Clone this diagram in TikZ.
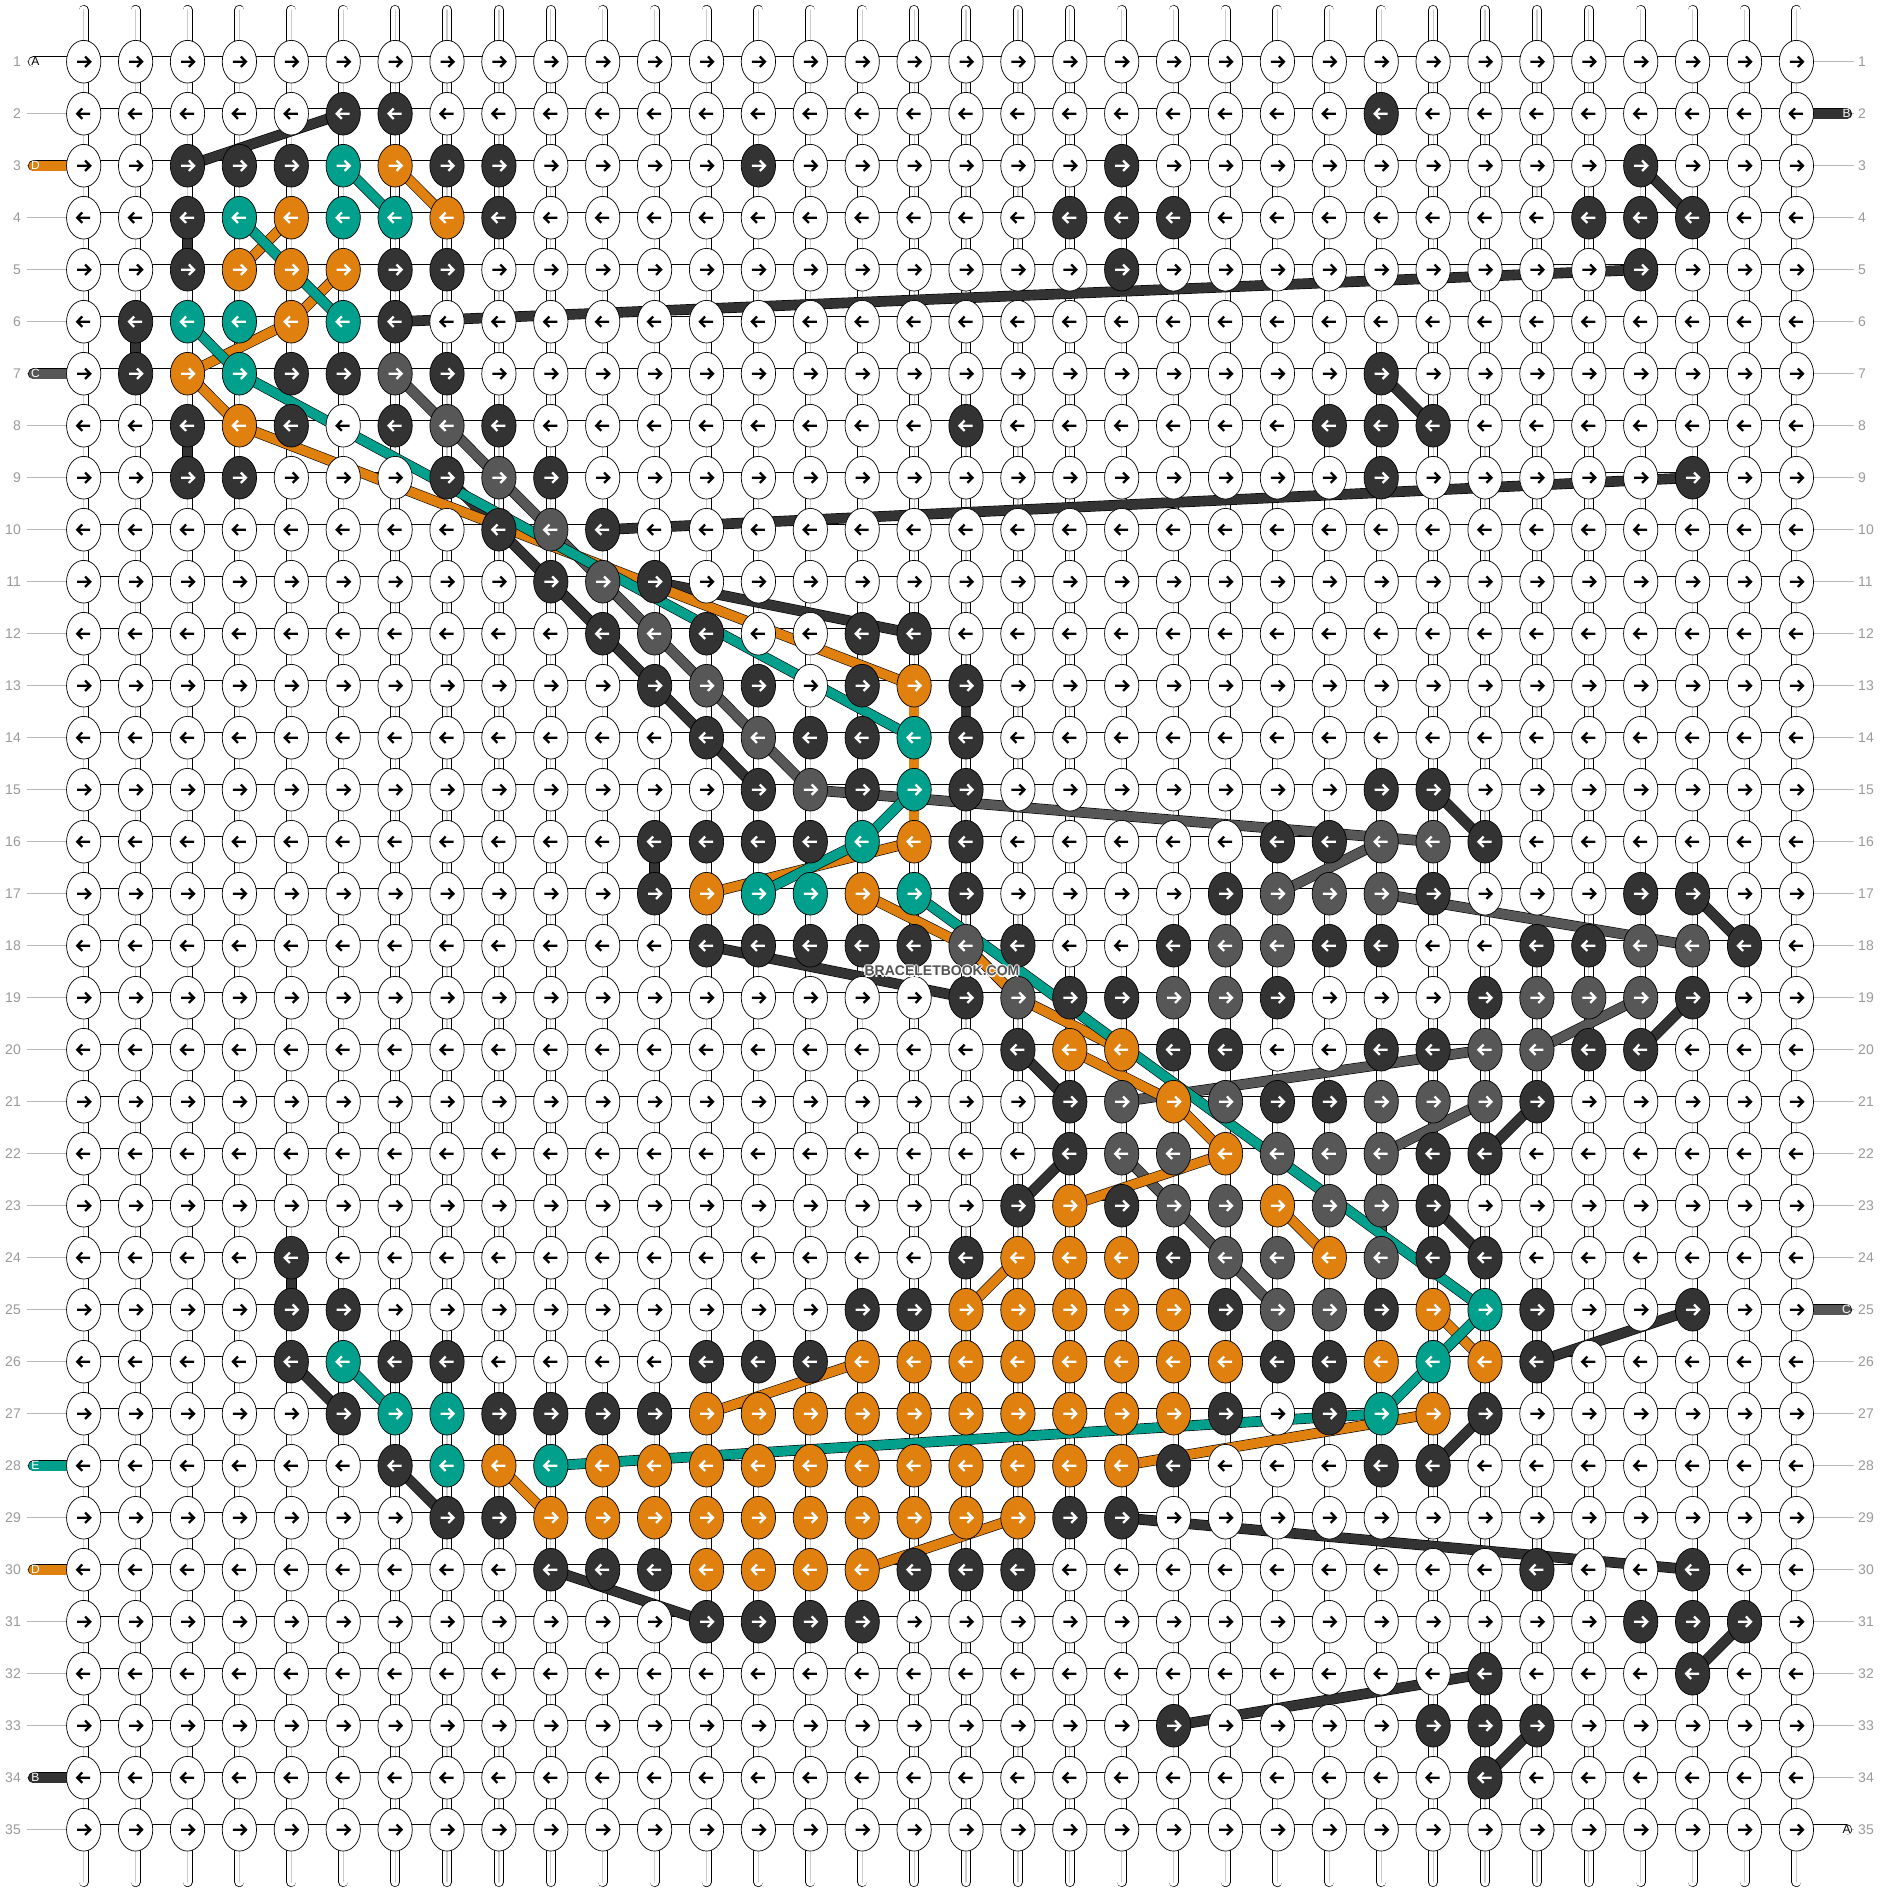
\documentclass[tikz,border=0pt]{standalone}
\usepackage{fontspec}
\setmainfont{Liberation Sans}
\usetikzlibrary{shapes.geometric}

\definecolor{dk}{HTML}{333333}
\definecolor{gr}{HTML}{575757}
\definecolor{tl}{HTML}{00A08D}
\definecolor{og}{HTML}{E0800F}
\definecolor{rowgray}{HTML}{9A9A9A}

\pgfdeclarelayer{strings}
\pgfsetlayers{strings,main}

\begin{document}
\begin{tikzpicture}[x=1pt, y=-1pt,
    knot/.style={ellipse, draw=black, line width=0.7pt, minimum width=34.3pt, minimum height=42.7pt, inner sep=0pt},
    arw/.style={draw=#1, line width=2.3pt},
    vstr/.style={draw=black, line width=0.7pt, double=white, double distance=8.6pt, line cap=round, postaction={draw=black!20, line width=1.2pt}},
    hstr/.style={draw=black, line width=0.7pt, double=white, double distance=9.8pt},
    band/.style={draw=black, line width=0.6pt, double=#1, double distance=9.4pt},
    rowline/.style={draw=rowgray!70, line width=0.9pt},
    rownum/.style={text=rowgray, font=\fontsize{14}{14}\selectfont, inner sep=0pt},
    tagline/.style={draw=black, line width=0.6pt, double=#1, double distance=9.8pt, line cap=round},
    tagtext/.style={font=\fontsize{12}{12}\selectfont, inner sep=0pt},
    wmark/.style={font=\bfseries\fontsize{14}{14}\selectfont, inner sep=0pt}]

\useasboundingbox (0,0) rectangle (1884,1892);
\begin{pgfonlayer}{strings}
\fill[white] (0,0) rectangle (1884,1892);
\end{pgfonlayer}

\foreach \r/\a/\b/\k in {
  2/6/7/dk, 2/26/26/dk,
  3/3/5/dk, 3/6/6/tl, 3/7/7/og, 3/8/9/dk, 3/14/14/dk, 3/21/21/dk, 3/31/31/dk,
  4/3/3/dk, 4/4/4/tl, 4/5/5/og, 4/6/7/tl, 4/8/8/og, 4/9/9/dk, 4/20/22/dk, 4/30/32/dk,
  5/3/3/dk, 5/4/6/og, 5/7/8/dk, 5/21/21/dk, 5/31/31/dk,
  6/2/2/dk, 6/3/4/tl, 6/5/5/og, 6/6/6/tl, 6/7/7/dk,
  7/2/2/dk, 7/3/3/og, 7/4/4/tl, 7/5/6/dk, 7/7/7/gr, 7/8/8/dk, 7/26/26/dk,
  8/3/3/dk, 8/4/4/og, 8/5/5/dk, 8/7/7/dk, 8/8/8/gr, 8/9/9/dk, 8/18/18/dk, 8/25/27/dk,
  9/3/4/dk, 9/8/8/dk, 9/9/9/gr, 9/10/10/dk, 9/26/26/dk, 9/32/32/dk,
  10/9/9/dk, 10/10/10/gr, 10/11/11/dk,
  11/10/10/dk, 11/11/11/gr, 11/12/12/dk,
  12/11/11/dk, 12/12/12/gr, 12/13/13/dk, 12/16/17/dk,
  13/12/12/dk, 13/13/13/gr, 13/14/14/dk, 13/16/16/dk, 13/17/17/og, 13/18/18/dk,
  14/13/13/dk, 14/14/14/gr, 14/15/16/dk, 14/17/17/tl, 14/18/18/dk,
  15/14/14/dk, 15/15/15/gr, 15/16/16/dk, 15/17/17/tl, 15/18/18/dk, 15/26/27/dk,
  16/12/15/dk, 16/16/16/tl, 16/17/17/og, 16/18/18/dk, 16/24/25/dk, 16/26/27/gr, 16/28/28/dk,
  17/12/12/dk, 17/13/13/og, 17/14/15/tl, 17/16/16/og, 17/17/17/tl, 17/18/18/dk, 17/23/23/dk, 17/24/26/gr, 17/27/27/dk, 17/31/32/dk,
  18/13/17/dk, 18/18/18/gr, 18/19/19/dk, 18/22/22/dk, 18/23/24/gr, 18/25/26/dk, 18/29/30/dk, 18/31/32/gr, 18/33/33/dk,
  19/18/18/dk, 19/19/19/gr, 19/20/21/dk, 19/22/23/gr, 19/24/24/dk, 19/28/28/dk, 19/29/31/gr, 19/32/32/dk,
  20/19/19/dk, 20/20/21/og, 20/22/23/dk, 20/26/27/dk, 20/28/29/gr, 20/30/31/dk,
  21/20/20/dk, 21/21/21/gr, 21/22/22/og, 21/23/23/gr, 21/24/25/dk, 21/26/28/gr, 21/29/29/dk,
  22/20/20/dk, 22/21/22/gr, 22/23/23/og, 22/24/26/gr, 22/27/28/dk,
  23/19/19/dk, 23/20/20/og, 23/21/21/dk, 23/22/23/gr, 23/24/24/og, 23/25/26/gr, 23/27/27/dk,
  24/5/5/dk, 24/18/18/dk, 24/19/21/og, 24/22/22/dk, 24/23/24/gr, 24/25/25/og, 24/26/26/gr, 24/27/28/dk,
  25/5/6/dk, 25/16/17/dk, 25/18/22/og, 25/23/23/dk, 25/24/25/gr, 25/26/26/dk, 25/27/27/og, 25/28/28/tl, 25/29/29/dk, 25/32/32/dk,
  26/5/5/dk, 26/6/6/tl, 26/7/8/dk, 26/13/15/dk, 26/16/23/og, 26/24/25/dk, 26/26/26/og, 26/27/27/tl, 26/28/28/og, 26/29/29/dk,
  27/6/6/dk, 27/7/8/tl, 27/9/12/dk, 27/13/22/og, 27/23/23/dk, 27/25/25/dk, 27/26/26/tl, 27/27/27/og, 27/28/28/dk,
  28/7/7/dk, 28/8/8/tl, 28/9/9/og, 28/10/10/tl, 28/11/21/og, 28/22/22/dk, 28/26/27/dk,
  29/8/9/dk, 29/10/19/og, 29/20/21/dk,
  30/10/12/dk, 30/13/16/og, 30/17/19/dk, 30/29/29/dk, 30/32/32/dk,
  31/13/16/dk, 31/31/33/dk,
  32/28/28/dk, 32/32/32/dk,
  33/22/22/dk, 33/27/29/dk,
  34/28/28/dk}
  \foreach \c in {\a,...,\b}
    \expandafter\xdef\csname kc\r-\c\endcsname{\k};

\foreach \r in {1,...,35} {
  \ifodd\r \def\s{1}\else\def\s{-1}\fi
  \foreach \c in {1,...,34} {
    \ifcsname kc\r-\c\endcsname
      \edef\kf{\csname kc\r-\c\endcsname}\def\ka{white}%
    \else
      \def\kf{white}\def\ka{black}%
    \fi
    \node[knot, fill=\kf] (n-\r-\c) at ({83.7+51.9*(\c-1)}, {61.7+52*(\r-1)}) {};
    \draw[arw=\ka] (n-\r-\c.center) +({-6.5*\s},0) -- +({6.5*\s},0)
      +({1.4*\s},-5.2) -- +({6.5*\s},0) -- +({1.4*\s},5.2);
  }
}

\begin{pgfonlayer}{strings}
\foreach \c in {1,...,34} {
  \coordinate (top-\c) at ({83.7+51.9*(\c-1)}, 10);
  \coordinate (bot-\c) at ({83.7+51.9*(\c-1)}, 1882);
  \draw[vstr] (top-\c) -- (bot-\c);
}
\foreach \r in {1,...,35} {
  \coordinate (ll-\r) at (26.5, {61.7+52*(\r-1)});
  \coordinate (rl-\r) at (1854, {61.7+52*(\r-1)});
  \draw[rowline] (ll-\r) -- (n-\r-1.center);
  \draw[rowline] (n-\r-34.center) -- (rl-\r);
  \draw[hstr] (n-\r-1.center) -- (n-\r-34.center);
}
\foreach \r/\f in {1/white, 3/og, 7/gr, 28/tl, 30/og, 34/dk} {
  \coordinate (tagl-\r) at (33.5, {61.7+52*(\r-1)});
  \draw[tagline=\f] (tagl-\r) -- (n-\r-1.center);
}
\foreach \r/\f in {2/dk, 25/gr, 35/white} {
  \coordinate (tagr-\r) at (1846.5, {61.7+52*(\r-1)});
  \draw[tagline=\f] (n-\r-34.center) -- (tagr-\r);
}

\foreach \ra/\ca/\rb/\cb in {3/3/2/6, 4/3/5/3, 6/2/7/2, 8/3/9/3, 6/7/5/31, 3/31/4/32, 7/26/8/27, 10/11/9/32, 9/8/15/14, 11/12/12/17, 13/18/14/18, 16/12/17/12, 15/27/16/28, 17/32/18/33, 18/13/19/18, 20/19/21/20, 23/19/22/20, 20/31/19/32, 22/28/21/29, 23/27/24/28, 26/29/25/32, 27/28/28/27, 24/5/25/5, 26/5/27/6, 28/7/29/8, 30/10/31/13, 29/21/30/32, 31/33/32/32, 32/28/33/22, 33/29/34/28}
  \draw[band=dk] (n-\ra-\ca.center) -- (n-\rb-\cb.center);
\foreach \ra/\ca/\rb/\cb in {7/7/15/15, 15/15/16/27, 16/26/17/24, 17/26/18/32, 18/18/19/19, 19/31/20/29, 20/28/21/21, 21/28/22/26, 22/21/25/24, 23/26/24/26}
  \draw[band=gr] (n-\ra-\ca.center) -- (n-\rb-\cb.center);
\foreach \ra/\ca/\rb/\cb in {3/7/4/8, 4/5/5/4, 5/6/6/5, 6/5/7/3, 7/3/8/4, 8/4/13/17, 13/17/16/17, 16/17/17/13, 17/16/18/18, 18/18/19/19, 19/19/20/21, 20/20/21/22, 21/22/22/23, 23/20/22/23, 23/24/24/25, 25/18/24/19, 25/27/26/28, 27/27/28/21, 27/13/26/16, 28/9/29/10, 30/16/29/19}
  \draw[band=og] (n-\ra-\ca.center) -- (n-\rb-\cb.center);
\foreach \ra/\ca/\rb/\cb in {3/6/4/7, 4/4/6/6, 6/3/7/4, 7/4/14/17, 15/17/16/16, 16/16/17/14, 17/17/25/28, 25/28/26/27, 26/27/27/26, 27/26/28/10, 26/6/27/7}
  \draw[band=tl] (n-\ra-\ca.center) -- (n-\rb-\cb.center);
\end{pgfonlayer}

\foreach \r in {1,...,35} {
  \node[rownum, anchor=east] (ln-\r) at (21, {61.7+52*(\r-1)}) {\r};
  \node[rownum, anchor=west] (rn-\r) at (1858, {61.7+52*(\r-1)}) {\r};
}
\foreach \r/\t/\tc in {1/A/black, 3/D/white, 7/C/white, 28/E/white, 30/D/white, 34/B/white}
  \node[tagtext, text=\tc] (tl-\r) at (35.5, {61.7+52*(\r-1)}) {\t};
\foreach \r/\t/\tc in {2/B/white, 25/C/white, 35/A/black}
  \node[tagtext, text=\tc] (tr-\r) at (1846.5, {61.7+52*(\r-1)}) {\t};

\foreach \dx/\dy in {-1.2/0, 1.2/0, 0/-1.2, 0/1.2}
  \node[wmark, text=white] at ({942+\dx}, {971+\dy}) {BRACELETBOOK.COM};
\node[wmark, text=dk!85] (brand) at (942,971) {BRACELETBOOK.COM};

\end{tikzpicture}
\end{document}
